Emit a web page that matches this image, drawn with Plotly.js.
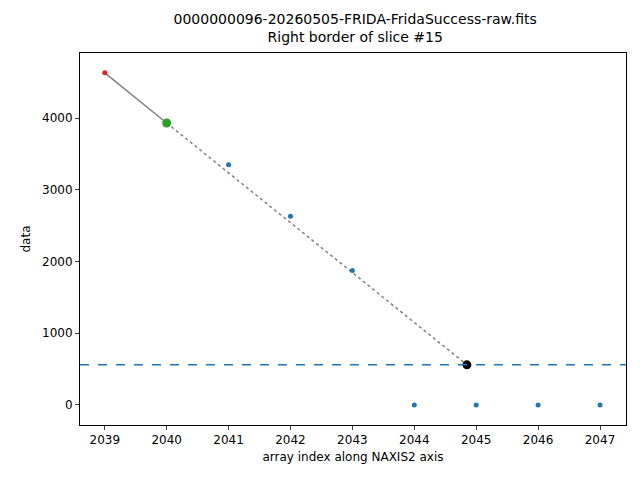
<!DOCTYPE html>
<html>
<head>
<script src="https://cdn.plot.ly/plotly-3.0.1.min.js"></script>
<style>body{margin:0;}</style>
</head>
<body>
<div id="plot" style="width:640px;height:480px;"></div>
<script>
// valeurs
var xBlue = [2041, 2042, 2043, 2044, 2045, 2046, 2047];
var yBlue = [3350, 2630, 1875, 0, 0, 0, 0];
var xRed = [2039], yRed = [4630];
var xGreen = [2040], yGreen = [3930];
var xBlack = [2044.85], yBlack = [560];
var level = 560;

var f = {family: 'DejaVu Sans', size: 12, color: '#000'};

var data = [
  {x: [xRed[0], xGreen[0]], y: [yRed[0], yGreen[0]], mode: 'lines', line: {color: 'gray', width: 1.5}},
  {x: [xGreen[0], xBlack[0]], y: [yGreen[0], yBlack[0]], mode: 'lines', line: {color: 'gray', width: 1.5, dash: 'dot'}},
  {x: xBlue, y: yBlue, mode: 'markers', marker: {color: '#1f77b4', size: 5}},
  {x: xRed, y: yRed, mode: 'markers', marker: {color: '#d62728', size: 5}},
  {x: xGreen, y: yGreen, mode: 'markers', marker: {color: '#2ca02c', size: 9}},
  {x: xBlack, y: yBlack, mode: 'markers', marker: {color: 'black', size: 9}}
];

var layout = {
  width: 640, height: 480,
  margin: {l: 80, r: 14, t: 53, b: 55},
  showlegend: false,
  font: f,
  title: {text: '0000000096-20260505-FRIDA-FridaSuccess-raw.fits<br>Right border of slice #15', x: 0.555, y: 0.95, yanchor: 'top', font: {family: 'DejaVu Sans', size: 14}},
  xaxis: {range: [2038.6, 2047.42], tickvals: [2039,2040,2041,2042,2043,2044,2045,2046,2047], showgrid: false, zeroline: false,
    showline: true, mirror: true, linecolor: 'black', ticks: 'outside', ticklen: 4,
    title: {text: 'array index along NAXIS2 axis', font: f, standoff: 6}},
  yaxis: {range: [-279, 4906], tickvals: [0, 1000, 2000, 3000, 4000], showgrid: false, zeroline: false,
    showline: true, mirror: true, linecolor: 'black', ticks: 'outside', ticklen: 4,
    title: {text: 'data', font: f, standoff: 8}},
  shapes: [{type: 'line', xref: 'paper', x0: 0, x1: 1, yref: 'y', y0: level, y1: level,
    line: {color: '#1f77b4', width: 1.5, dash: 'dash'}}],
  plot_bgcolor: 'white', paper_bgcolor: 'white'
};

Plotly.newPlot('plot', data, layout, {displayModeBar: false});
</script>
</body>
</html>
